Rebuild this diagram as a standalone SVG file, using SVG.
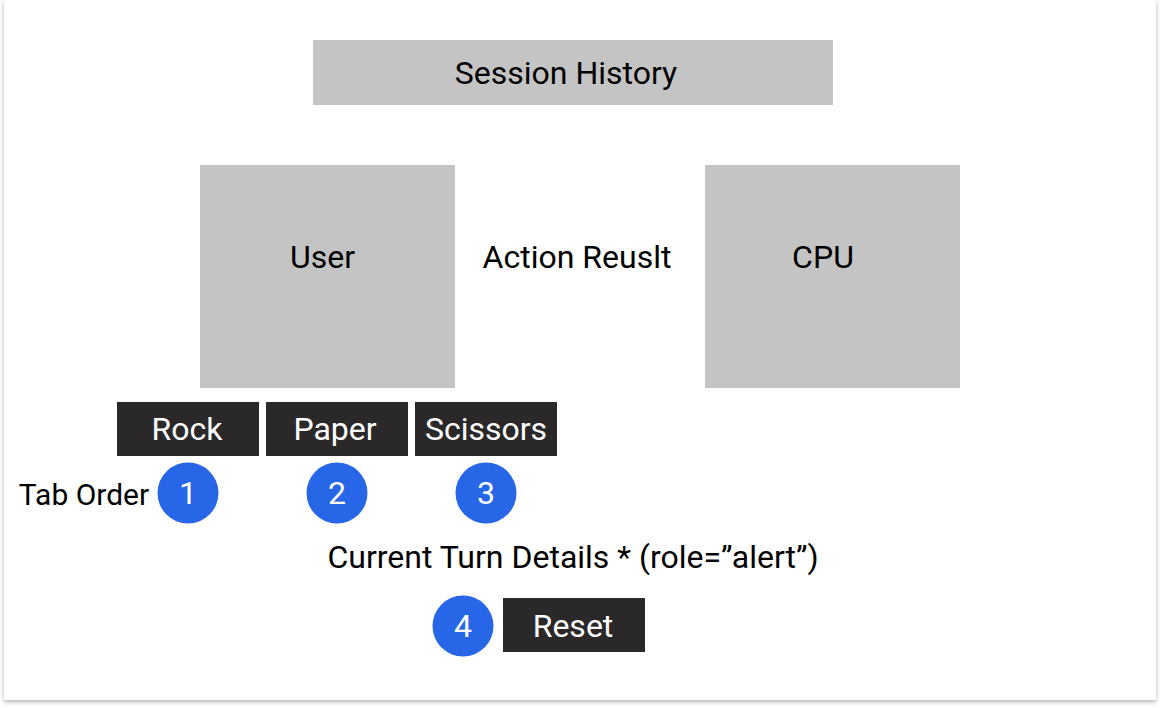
<svg xmlns="http://www.w3.org/2000/svg" width="1160" height="708" viewBox="0 0 1160 708">
<defs>
<filter id="sh" x="-5%" y="-5%" width="110%" height="110%">
<feDropShadow dx="0" dy="2" stdDeviation="2" flood-color="#000" flood-opacity="0.3"/>
</filter>
<style>
text{font-family:Roboto,"Liberation Sans",sans-serif;font-size:32px;text-anchor:middle;fill:#000}
.box{fill:#c4c4c4}
.btn{fill:#2b2829}
.btn-t{fill:#fff}
.num{fill:#2866e8}
.num-t{fill:#fff}
</style>
</defs>
<rect x="0" y="0" width="1160" height="708" fill="#fff"/>
<rect x="4" y="0" width="1152" height="700" fill="#fff" filter="url(#sh)"/>
<g id="connectors"></g>
<g id="session-history"><rect class="box" x="313" y="40" width="520" height="65"/><text x="566" y="84">Session History</text></g>
<g id="user"><rect class="box" x="200" y="165" width="255" height="223"/><text x="322.5" y="268">User</text></g>
<g id="action-result"><text x="577" y="268">Action Reuslt</text></g>
<g id="cpu"><rect class="box" x="705" y="165" width="255" height="223"/><text x="823" y="268">CPU</text></g>
<g id="rock"><rect class="btn" x="117" y="402" width="142" height="54"/><text class="btn-t" x="187" y="440">Rock</text></g>
<g id="paper"><rect class="btn" x="266" y="402" width="142" height="54"/><text class="btn-t" x="335" y="440">Paper</text></g>
<g id="scissors"><rect class="btn" x="415" y="402" width="142" height="54"/><text class="btn-t" x="486" y="440">Scissors</text></g>
<g id="tab-order"><text x="84" y="505" style="font-size:30px">Tab Order</text></g>
<g id="n1"><circle class="num" cx="188" cy="493" r="30.5"/><text class="num-t" x="188" y="504">1</text></g>
<g id="n2"><circle class="num" cx="337" cy="493" r="30.5"/><text class="num-t" x="337" y="504">2</text></g>
<g id="n3"><circle class="num" cx="486" cy="493" r="30.5"/><text class="num-t" x="486" y="504">3</text></g>
<g id="current-turn"><text x="573" y="568">Current Turn Details * (role=”alert”)</text></g>
<g id="n4"><circle class="num" cx="463" cy="626" r="30.5"/><text class="num-t" x="463" y="637">4</text></g>
<g id="reset"><rect class="btn" x="503" y="598" width="142" height="54"/><text class="btn-t" x="573" y="637">Reset</text></g>
</svg>
